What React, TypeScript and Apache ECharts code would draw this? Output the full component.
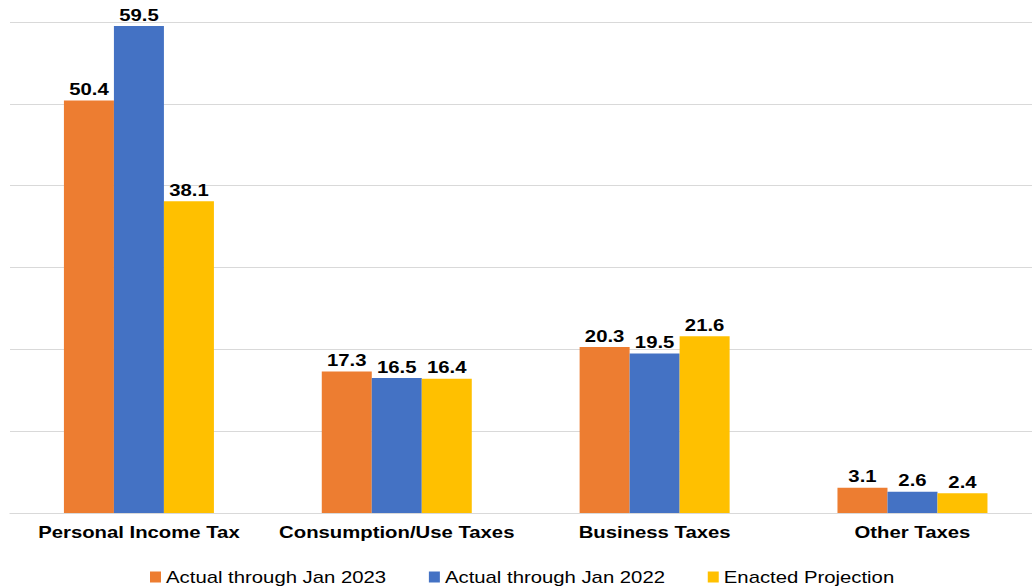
import React, { useEffect, useRef } from "react";
import * as echarts from "echarts";

const categories = ["Personal Income Tax", "Consumption/Use Taxes", "Business Taxes", "Other Taxes"];
const actual2023 = [50.4, 17.3, 20.3, 3.1];
const actual2022 = [59.5, 16.5, 19.5, 2.6];
const enacted = [38.1, 16.4, 21.6, 2.4];
const seriesNames = ["Actual through Jan 2023", "Actual through Jan 2022", "Enacted Projection"];
const colors = ["#ED7D31", "#4472C4", "#FFC000"];

const S = 1.27; // horizontal stretch of the reference picture

export default function App() {
  const ref = useRef<HTMLDivElement>(null);
  useEffect(() => {
    if (!ref.current) return;
    const chart = echarts.init(ref.current, undefined, { renderer: "svg" });
    const font = "Liberation Sans, Arial, sans-serif";
    const mk = (name: string, data: number[], color: string) => ({
      name,
      type: "bar",
      data,
      barWidth: 50 / S,
      barGap: "0%",
      itemStyle: { color },
      label: {
        show: true,
        position: "top",
        distance: 3,
        color: "#000",
        fontWeight: "bold",
        fontSize: 16,
        fontFamily: font,
        formatter: (p: any) => p.value.toFixed(1),
      },
    });
    chart.setOption({
      animation: false,
      textStyle: { fontFamily: font },
      grid: { left: 10 / S, right: 0, top: 22, bottom: 73, containLabel: false },
      legend: {
        top: 569,
        left: 150 / S,
        padding: 0,
        itemWidth: 11 / S,
        itemHeight: 11,
        itemGap: 42.5 / S,
        icon: "rect",
        textStyle: { fontSize: 16, color: "#000", fontFamily: font, padding: [0, 0, 0, -1] },
        data: seriesNames,
      },
      xAxis: {
        type: "category",
        data: categories,
        axisTick: { show: false },
        axisLine: { lineStyle: { color: "#d9d9d9" } },
        axisLabel: { interval: 0, color: "#000", fontWeight: "bold", fontSize: 16, fontFamily: font, margin: 11 },
      },
      yAxis: {
        type: "value",
        min: 0,
        max: 60,
        interval: 10,
        axisLabel: { show: false },
        axisLine: { show: false },
        axisTick: { show: false },
        splitLine: { lineStyle: { color: "#d9d9d9" } },
      },
      series: [
        mk(seriesNames[0], actual2023, colors[0]),
        mk(seriesNames[1], actual2022, colors[1]),
        mk(seriesNames[2], enacted, colors[2]),
      ],
    });
    return () => chart.dispose();
  }, []);
  return (
    <div
      style={{ position: "fixed", left: 0, top: 0, width: 1032, height: 586, overflow: "hidden", background: "#fff" }}
    >
      <div
        ref={ref}
        style={{
          width: 1042 / S,
          height: 586,
          transform: `scaleX(${S})`,
          transformOrigin: "0 0",
        }}
      />
    </div>
  );
}
